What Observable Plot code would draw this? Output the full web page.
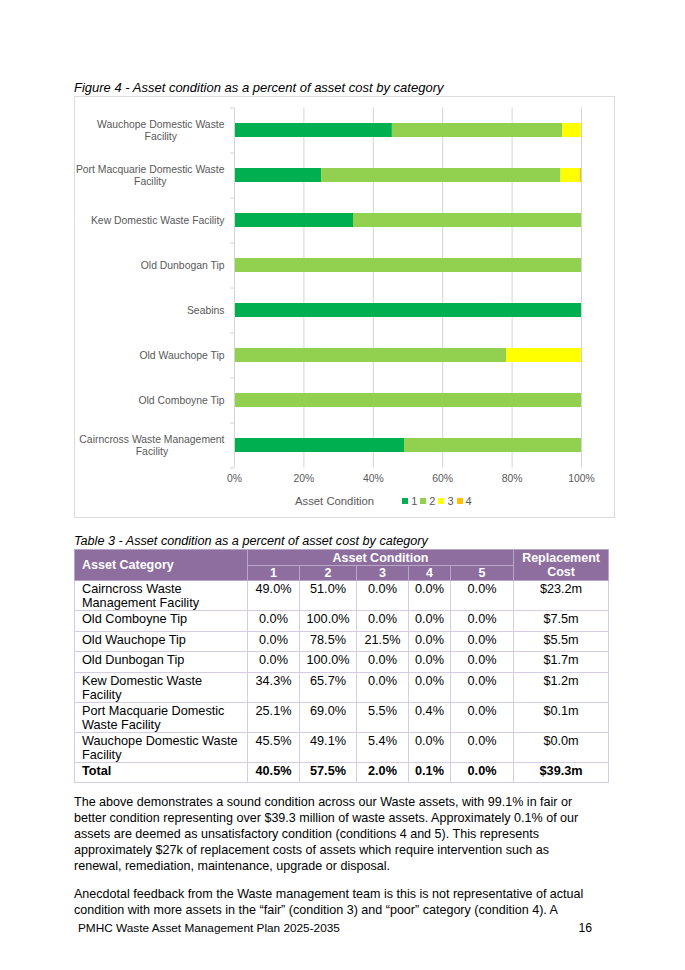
<!DOCTYPE html>
<html><head><meta charset="utf-8">
<script src="https://cdn.jsdelivr.net/npm/d3@7"></script>
<script src="https://cdn.jsdelivr.net/npm/@observablehq/plot@0.6"></script>
<style>
body{margin:0;background:#fff;}
#page{position:relative;width:685px;height:970px;font-family:"Liberation Sans",Arial,sans-serif;color:#000;overflow:hidden;background:#fff}
.cap{position:absolute;left:74px;font-style:italic;line-height:14px;white-space:nowrap}
#figcap{top:81px;font-size:13px}
#tabcap{top:534px;font-size:12.65px}
#chartbox{position:absolute;left:74px;top:96px;width:539px;height:420px;border:1px solid #dcdcdc}
#chart{position:absolute;left:74px;top:96px}
#legend{position:absolute;top:493px;left:295px;height:16px;display:flex;align-items:center;color:#595959;white-space:nowrap}
#legend .title{font-size:11.3px;margin-right:28px}
#legend .item{display:flex;align-items:center;font-size:11px;margin-right:3px}
#legend .sw{width:6px;height:6px;margin-right:3px}
table{position:absolute;left:74px;top:549px;border-collapse:collapse;table-layout:fixed;width:534px;font-size:12.7px;line-height:13.5px}
th{background:#8d6e9f;color:#fff;font-weight:bold;border:1px solid #b9a6c9;padding:0;text-align:center;vertical-align:middle;line-height:14px;font-size:12.5px}
td{border:1px solid #d6cce3;padding:2px 0 0 0;text-align:center;vertical-align:top}
td.cat{text-align:left;padding-left:7px}
th.cat{text-align:left;padding-left:7px}
tr.total td{font-weight:bold}
.para{position:absolute;left:74px;font-size:12.55px;line-height:16px;white-space:nowrap}
#p1{top:794px}
#p2{top:886px}
#footer{position:absolute;left:78px;top:921px;font-size:11.8px;line-height:14px;white-space:nowrap}
#pagenum{position:absolute;right:93px;top:921px;font-size:12.2px;line-height:14px}
</style></head>
<body>
<div id="page">
  <div class="cap" id="figcap">Figure 4 - Asset condition as a percent of asset cost by category</div>
  <div id="chartbox"></div>
  <div id="chart"></div>
  <div id="legend"></div>
  <div class="cap" id="tabcap">Table 3 - Asset condition as a percent of asset cost by category</div>
  <table id="tbl"></table>
  <div class="para" id="p1">The above demonstrates a sound condition across our Waste assets, with 99.1% in fair or<br>better condition representing over $39.3 million of waste assets. Approximately 0.1% of our<br>assets are deemed as unsatisfactory condition (conditions 4 and 5). This represents<br>approximately $27k of replacement costs of assets which require intervention such as<br>renewal, remediation, maintenance, upgrade or disposal.</div>
  <div class="para" id="p2">Anecdotal feedback from the Waste management team is this is not representative of actual<br>condition with more assets in the “fair” (condition 3) and “poor” category (condition 4). A</div>
  <div id="footer">PMHC Waste Asset Management Plan 2025-2035</div>
  <div id="pagenum">16</div>
</div>
<script>
// ---------- Chart data ----------
const categories = [
  "Wauchope Domestic Waste Facility",
  "Port Macquarie Domestic Waste Facility",
  "Kew Domestic Waste Facility",
  "Old Dunbogan Tip",
  "Seabins",
  "Old Wauchope Tip",
  "Old Comboyne Tip",
  "Cairncross Waste Management Facility"
];
const yTickLabels = [
  "Wauchope Domestic Waste\nFacility",
  "Port Macquarie Domestic Waste\nFacility",
  "Kew Domestic Waste Facility",
  "Old Dunbogan Tip",
  "Seabins",
  "Old Wauchope Tip",
  "Old Comboyne Tip",
  "Cairncross Waste Management\nFacility"
];
const conditionLabels = ["1", "2", "3", "4"];
const conditionColors = ["#00b050", "#92d050", "#ffff00", "#ffc000"];
const cond1 = [45.5, 25.1, 34.3, 0, 100, 0, 0, 49.0];
const cond2 = [49.1, 69.0, 65.7, 100, 0, 78.5, 100, 51.0];
const cond3 = [5.4, 5.5, 0, 0, 0, 21.5, 0, 0];
const cond4 = [0, 0.4, 0, 0, 0, 0, 0, 0];
const xTicks = [0, 20, 40, 60, 80, 100];
const legendTitle = "Asset Condition";

// ---------- Table data ----------
const tableCategories = [
  "Cairncross Waste<br>Management Facility",
  "Old Comboyne Tip",
  "Old Wauchope Tip",
  "Old Dunbogan Tip",
  "Kew Domestic Waste<br>Facility",
  "Port Macquarie Domestic<br>Waste Facility",
  "Wauchope Domestic Waste<br>Facility"
];
const tableCond1 = ["49.0%", "0.0%", "0.0%", "0.0%", "34.3%", "25.1%", "45.5%"];
const tableCond2 = ["51.0%", "100.0%", "78.5%", "100.0%", "65.7%", "69.0%", "49.1%"];
const tableCond3 = ["0.0%", "0.0%", "21.5%", "0.0%", "0.0%", "5.5%", "5.4%"];
const tableCond4 = ["0.0%", "0.0%", "0.0%", "0.0%", "0.0%", "0.4%", "0.0%"];
const tableCond5 = ["0.0%", "0.0%", "0.0%", "0.0%", "0.0%", "0.0%", "0.0%"];
const tableCost = ["$23.2m", "$7.5m", "$5.5m", "$1.7m", "$1.2m", "$0.1m", "$0.0m"];
const totalRow = ["Total", "40.5%", "57.5%", "2.0%", "0.1%", "0.0%", "$39.3m"];

// ---------- Build chart ----------
const W = 541, H = 400, ML = 160, MR = 34, MT = 11.5, MB = 28.5;
const pxPerUnit = (W - ML - MR) / 100;
const step = (H - MT - MB) / categories.length;
const labelFont = "10.4px 'Liberation Sans'";
const ctx = document.createElement("canvas").getContext("2d");
ctx.font = labelFont;
const measure = (s) => ctx.measureText(s).width;

const condArrays = [cond1, cond2, cond3, cond4];
const data = [];
categories.forEach((c, i) => {
  condArrays.forEach((arr, k) => data.push({cat: c, cond: conditionLabels[k], value: arr[i]}));
});
const labelRows = categories.map((c, i) => ({cat: c, lines: yTickLabels[i].split("\n")}));
const single = labelRows.filter(d => d.lines.length === 1);
const double = labelRows.filter(d => d.lines.length === 2);
const grey = "#595959";
const axisGrey = "#d4d4d4";

const chart = Plot.plot({
  width: W, height: H,
  marginLeft: ML, marginRight: MR, marginTop: MT, marginBottom: MB,
  style: {fontFamily: "'Liberation Sans', Arial, sans-serif", fontSize: "10.4px", background: "transparent", overflow: "visible"},
  x: {domain: [0, 100], axis: null},
  y: {domain: categories, paddingInner: 0.69, paddingOuter: 0.345, axis: null},
  color: {domain: conditionLabels, range: conditionColors},
  marks: [
    Plot.ruleX(xTicks.slice(1), {stroke: axisGrey, strokeWidth: 1}),
    Plot.barX(data, Plot.stackX({x: "value", y: "cat", fill: "cond", order: conditionLabels})),
    Plot.ruleX([0], {stroke: axisGrey, strokeWidth: 1}),
    Plot.ruleY(categories, {y: d => d, x1: -4 / pxPerUnit, x2: 0, dy: -step / 2, stroke: axisGrey}),
    Plot.ruleY(categories.slice(-1), {y: d => d, x1: -4 / pxPerUnit, x2: 0, dy: step / 2, stroke: axisGrey}),
    Plot.axisX({ticks: xTicks, tickFormat: d => d + "%", tickSize: 0, tickPadding: 7, fill: grey, label: null, fontSize: 10.4}),
    Plot.text(single, {y: "cat", x: 0, text: d => d.lines[0], dx: -10, textAnchor: "end", fill: grey}),
    Plot.text(double, {y: "cat", x: 0, text: d => d.lines[0], dx: -10, dy: -6, textAnchor: "end", fill: grey}),
    Plot.text(double, {y: "cat", x: d => -(measure(d.lines[0]) / 2) / pxPerUnit, text: d => d.lines[1], dx: -10, dy: 6, textAnchor: "middle", fill: grey})
  ]
});
document.getElementById("chart").appendChild(chart);

// legend
const legend = document.getElementById("legend");
legend.innerHTML = `<span class="title">${legendTitle}</span>` +
  conditionLabels.map((c, i) => `<span class="item"><span class="sw" style="background:${conditionColors[i]}"></span>${c}</span>`).join("");

// ---------- Build table ----------
const colWidths = [173, 52, 57, 52, 42, 63, 95];
const rowHeights = [30, 21, 20, 21, 30, 29, 29];
let html = "<colgroup>" + colWidths.map(w => `<col style="width:${w}px">`).join("") + "</colgroup>";
html += `<tr style="height:16px"><th class="cat" rowspan="2">Asset Category</th><th colspan="5">Asset Condition</th><th rowspan="2">Replacement<br>Cost</th></tr>`;
html += `<tr style="height:14px">` + ["1","2","3","4","5"].map(s => `<th>${s}</th>`).join("") + `</tr>`;
tableCategories.forEach((c, i) => {
  html += `<tr style="height:${rowHeights[i]}px"><td class="cat">${c}</td><td>${tableCond1[i]}</td><td>${tableCond2[i]}</td><td>${tableCond3[i]}</td><td>${tableCond4[i]}</td><td>${tableCond5[i]}</td><td>${tableCost[i]}</td></tr>`;
});
html += `<tr class="total" style="height:20px">` + totalRow.map((v, j) => `<td${j === 0 ? ' class="cat"' : ''}>${v}</td>`).join("") + `</tr>`;
document.getElementById("tbl").innerHTML = html;
</script>
</body></html>
